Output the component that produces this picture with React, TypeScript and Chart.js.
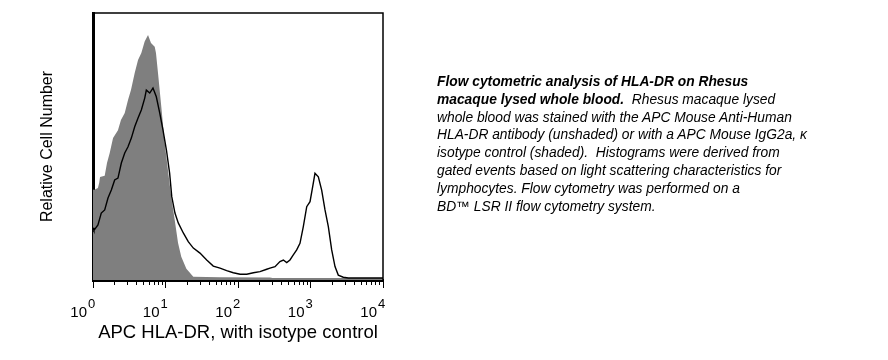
import React, { useEffect, useRef } from 'react';
import { Chart, registerables } from 'chart.js';

Chart.register(...registerables);

// Isotype control (shaded) histogram
const isoX = [1, 1.03, 1.17, 1.22, 1.25, 1.45, 1.56, 1.7, 1.89, 2.21, 2.43, 2.74, 3.04, 3.34, 3.76, 4.18, 4.64, 5.16, 5.74, 6.31, 7.1, 7.39, 7.88, 8.75, 9.75, 10.8, 12.0, 13.4, 14.9, 16.5, 19.4, 24.2, 56, 276, 300, 10000];
const isoY = [33.5, 33.2, 34.0, 36.0, 38.1, 38.6, 43.4, 47.2, 52.8, 55.8, 59.6, 62.3, 67.2, 70.9, 77.4, 82.3, 84.9, 89.2, 91.7, 88.7, 87.3, 84.9, 77.4, 64.6, 50.9, 40.8, 30.7, 21.9, 13.2, 8.0, 3.5, 0.5, 0.3, 0.2, 0, 0];

// APC HLA-DR (unshaded) histogram
const hlaX = [1, 1.03, 1.17, 1.3, 1.45, 1.61, 1.79, 1.99, 2.21, 2.46, 2.74, 3.04, 3.38, 3.76, 4.18, 4.64, 5.17, 5.44, 6.06, 6.72, 7.47, 8.32, 9.24, 10.3, 11.4, 12.2, 13.5, 15.0, 17.6, 20.6, 24.2, 29.9, 37.0, 45.6, 56.5, 69.8, 86.1, 107, 132, 163, 201, 249, 276, 324, 379, 422, 470, 521, 579, 645, 716, 796, 887, 985, 1072, 1153, 1282, 1426, 1585, 1762, 1960, 2178, 2417, 2833, 3321, 10000];
const hlaY = [19.0, 18.0, 20.0, 24.5, 25.7, 30.2, 33.2, 37.0, 37.7, 43.4, 47.2, 49.5, 52.8, 57.1, 60.4, 63.4, 67.9, 70.9, 69.8, 71.7, 68.4, 62.3, 55.8, 48.3, 39.6, 30.7, 24.5, 20.8, 17.0, 13.7, 11.3, 9.4, 6.8, 4.5, 3.7, 2.8, 2.0, 1.4, 1.4, 2.0, 2.4, 3.3, 3.7, 4.3, 6.2, 6.8, 5.8, 6.8, 8.7, 10.6, 13.1, 19.4, 26.9, 28.8, 34.5, 39.5, 38.2, 33.2, 25.7, 19.4, 10.6, 4.3, 1.1, 0.3, 0, 0];

const decadeExponents = [0, 1, 2, 3, 4];
const minorMultipliers = [1, 2, 3, 4, 5, 6, 7, 8, 9];
const xTitle = 'APC HLA-DR, with isotype control';
const yTitle = 'Relative Cell Number';

const FONT = '"Liberation Sans", Arial, Helvetica, sans-serif';

const framePlugin = {
  id: 'frameAndDecades',
  afterDraw(chart: any) {
    const { ctx, chartArea: a, scales } = chart;
    ctx.save();
    ctx.strokeStyle = '#000';
    ctx.lineWidth = 1.5;
    ctx.beginPath();
    ctx.moveTo(a.left, a.top);
    ctx.lineTo(a.right, a.top);
    ctx.lineTo(a.right, a.bottom);
    ctx.stroke();
    const xs = scales.x;
    ctx.fillStyle = '#000';
    ctx.textBaseline = 'alphabetic';
    decadeExponents.forEach((e) => {
      const px = xs.getPixelForValue(Math.pow(10, e));
      ctx.font = `15px ${FONT}`;
      ctx.textAlign = 'right';
      ctx.fillText('10', px - 6, 317);
      ctx.font = `13px ${FONT}`;
      ctx.textAlign = 'left';
      ctx.fillText(String(e), px - 5, 308);
    });
    ctx.restore();
  },
};

export default function App() {
  const canvasRef = useRef<HTMLCanvasElement | null>(null);

  useEffect(() => {
    const canvas = canvasRef.current;
    if (!canvas) return;
    const chart = new Chart(canvas, {
      type: 'line',
      data: {
        datasets: [
          {
            label: 'APC HLA-DR',
            data: hlaX.map((x, i) => ({ x, y: hlaY[i] })),
            borderColor: '#000',
            borderWidth: 1.4,
            fill: false,
            pointRadius: 0,
            tension: 0,
            order: 0,
          },
          {
            label: 'Isotype control',
            data: isoX.map((x, i) => ({ x, y: isoY[i] })),
            borderColor: 'rgba(0,0,0,0)',
            borderWidth: 0,
            backgroundColor: '#7f7f7f',
            fill: 'start',
            pointRadius: 0,
            tension: 0,
            order: 1,
          },
        ],
      },
      options: {
        responsive: false,
        animation: false,
        devicePixelRatio: 1,
        layout: { padding: { top: 13, right: 505, left: 0, bottom: 0 } },
        plugins: {
          legend: { display: false },
          tooltip: { enabled: false },
        },
        scales: {
          x: {
            type: 'logarithmic',
            min: 1,
            max: 10000,
            afterBuildTicks: (scale: any) => {
              const t: any[] = [];
              decadeExponents.forEach((e) => {
                if (e === 4) {
                  t.push({ value: 10000 });
                } else {
                  minorMultipliers.forEach((m) => t.push({ value: m * Math.pow(10, e) }));
                }
              });
              scale.ticks = t;
            },
            afterFit: (scale: any) => {
              scale.height = 80;
            },
            ticks: { display: false },
            grid: {
              display: true,
              drawOnChartArea: false,
              drawTicks: true,
              tickLength: 8,
              color: '#000',
              tickColor: '#000',
              tickWidth: 1,
              tickBorderDash: (ctx: any) => {
                const v = ctx.tick ? ctx.tick.value : 1;
                const l = Math.log10(v);
                return Math.abs(l - Math.round(l)) < 1e-6 ? [] : [3, 30];
              },
            },
            border: { display: true, color: '#000', width: 3 },
            title: {
              display: true,
              text: xTitle,
              color: '#000',
              font: { family: FONT, size: 18.5 },
              padding: { top: 0, bottom: 16 },
            },
          },
          y: {
            min: -0.75,
            max: 100,
            afterFit: (scale: any) => {
              scale.width = 93;
            },
            ticks: { display: false },
            grid: { display: true, drawOnChartArea: false, drawTicks: false, color: '#000' },
            border: { display: true, color: '#000', width: 3 },
            title: {
              display: true,
              text: yTitle,
              color: '#000',
              font: { family: FONT, size: 16 },
              padding: { top: 38, bottom: 0 },
            },
          },
        },
      },
      plugins: [framePlugin],
    });
    return () => chart.destroy();
  }, []);

  return (
    <div style={{ position: 'fixed', left: 0, top: 0, width: 888, height: 360, background: '#fff' }}>
      <canvas ref={canvasRef} width={888} height={360} style={{ position: 'absolute', left: 0, top: 0, width: 888, height: 360 }} />
      <div
        style={{
          position: 'absolute',
          left: 437,
          top: 73,
          fontFamily: FONT,
          fontStyle: 'italic',
          fontSize: 13.8,
          lineHeight: '17.8px',
          whiteSpace: 'pre',
          color: '#000',
        }}
      >
        <b>{'Flow cytometric analysis of HLA-DR on Rhesus\nmacaque lysed whole blood.'}</b>
        {'  Rhesus macaque lysed\nwhole blood was stained with the APC Mouse Anti-Human\nHLA-DR antibody (unshaded) or with a APC Mouse IgG2a, \u03ba\nisotype control (shaded).  Histograms were derived from\ngated events based on light scattering characteristics for\nlymphocytes. Flow cytometry was performed on a\nBD\u2122 LSR II flow cytometry system.'}
      </div>
    </div>
  );
}
